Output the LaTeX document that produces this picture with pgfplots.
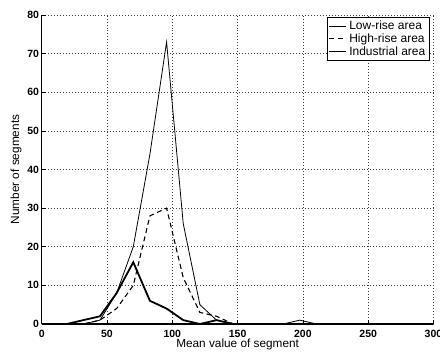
\documentclass[border=0pt]{standalone}
\usepackage{fontspec}
\setmainfont{Liberation Sans}
\newfontfamily\tickfont{Liberation Sans Bold}
\usepackage{pgfplots}
\pgfplotsset{compat=1.18}
\usepackage{pgfplotstable}
\pgfplotstableread{
x low high ind
6.375 0 0 0
19.125 0 0 0
31.875 0 0 1
44.625 1 1 2
57.375 8 4 8
70.125 20 10 16
82.875 44 28 6
95.625 73 30 4
108.375 26 12 1
121.125 5 3 0
133.875 1 2 1
146.625 0 0 0
159.375 0 0 0
172.125 0 0 0
184.875 0 0 0
197.625 1 0 0
210.375 0 0 0
223.125 0 0 0
235.875 0 0 0
248.625 0 0 0
}\data
\begin{document}
\begin{tikzpicture}
\begin{axis}[
  name=ax,
  scale only axis,
  width=391.8bp, height=309bp,
  xmin=0, xmax=300, ymin=0, ymax=80,
  xtick={0,50,...,300}, ytick={0,10,...,80},
  axis lines*=left,
  axis line style={black, line width=1.2pt},
  tick align=inside,
  major tick length=4bp,
  tick style={black, line width=0.6pt},
  grid=major,
  grid style={black!75, line width=0.6pt, dash pattern=on 0.6pt off 2.4pt},
  /pgf/number format/assume math mode=true,
  xticklabel={\tickfont\fontsize{10.5bp}{12bp}\selectfont\pgfmathprintnumber{\tick}},
  yticklabel={\tickfont\fontsize{10.5bp}{12bp}\selectfont\pgfmathprintnumber{\tick}},
  xticklabel style={inner sep=0pt, yshift=-6bp},
  yticklabel style={inner sep=0pt, xshift=-2.5bp},
  label style={font=\fontsize{11.8bp}{14bp}\selectfont},
  xlabel={Mean value of segment},
  ylabel={Number of segments},
  xlabel style={at={(axis description cs:0.5,-0.0754)}, anchor=base, inner sep=0pt},
  ylabel style={at={(axis description cs:-0.0656,0.5)}, anchor=center, inner sep=0pt},
  legend style={at={([xshift=-4.5bp,yshift=-2.3bp]rel axis cs:1,1)}, anchor=north east,
    draw=black, font=\fontsize{12bp}{14bp}\selectfont,
    inner sep=1.5bp, row sep=-1.5bp, cells={anchor=west}},
]
\addplot[black, line width=0.8pt] table[x=x, y=low] {\data};
\addplot[black, line width=1.1pt, dash pattern=on 5bp off 3.5bp] table[x=x, y=high] {\data};
\addplot[black, line width=1.8pt] table[x=x, y=ind] {\data};
\addlegendimage{black, line width=0.8pt, legend image code/.code={\draw[black, line width=0.8pt] (0bp,0bp) -- (24bp,0bp);}}
\addlegendentry{Low-rise area}
\addlegendimage{black, legend image code/.code={\draw[black, line width=1.1pt, dash pattern=on 5bp off 3.5bp] (0bp,0bp) -- (24bp,0bp);}}
\addlegendentry{High-rise area}
\addlegendimage{black, legend image code/.code={\draw[black, line width=2pt] (0bp,0bp) -- (24bp,0bp);}}
\addlegendentry{Industrial area}
\end{axis}
\pgfresetboundingbox
\useasboundingbox ([xshift=-41.7bp,yshift=-30bp]ax.south west) rectangle ([xshift=6.5bp,yshift=15bp]ax.north east);
\end{tikzpicture}
\end{document}
